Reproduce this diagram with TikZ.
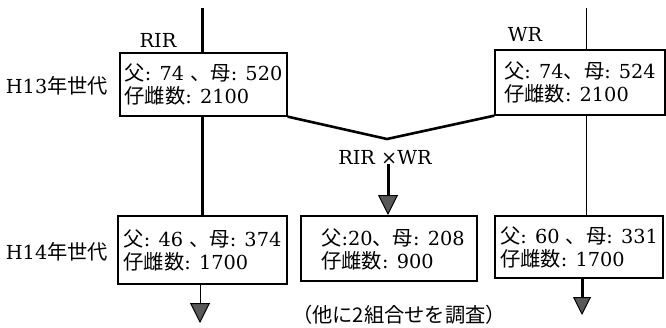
\documentclass[tikz,border=0pt]{standalone}
\usepackage{fontspec}
\setmainfont{DejaVu Serif}
\newfontfamily\cjk[Scale=1.05]{Noto Sans CJK JP}
\newcommand\jtext[1]{{\cjk #1}}
\usetikzlibrary{arrows.meta}
\begin{document}
\begin{tikzpicture}[x=1pt,y=-1pt,
  font=\fontsize{19.3}{23}\selectfont,
  box/.style={draw, line width=1.3pt, align=left, inner sep=0pt},
  thickln/.style={line width=3pt},
  thinln/.style={line width=1pt},
  tip/.style={-{Triangle[length=#1,width=#1,fill=black!65,line width=1pt]}},
  lab/.style={inner sep=0pt}
]
\useasboundingbox (0,0) rectangle (666,327);

% labels
\node[lab] (rirlab) at (158,40) {RIR};
\node[lab] (wrlab) at (525,34) {WR};
\node[lab] (h13) at (57,86) {H13\jtext{年世代}};
\node[lab] (h14) at (57,252) {H14\jtext{年世代}};
\node[lab] (cross) at (385,157) {RIR ×WR};
\node[lab] (note) at (399,315) {\jtext{（他に2組合せを調査）}};

% boxes
\node[box, minimum width=167pt, minimum height=63pt] (rir) at (203.5,84.5)
  {\jtext{父}: 74 \jtext{、母}: 520\\\jtext{仔雌数}: 2100};
\node[box, minimum width=170pt, minimum height=65pt] (wr) at (580,82.5)
  {\jtext{父}: 74\jtext{、母}: 524\\\jtext{仔雌数}: 2100};
\node[box, minimum width=169pt, minimum height=68pt] (ll) at (202.5,250)
  {\jtext{父}: 46 \jtext{、母}: 374\\\jtext{仔雌数}: 1700};
\node[box, minimum width=176pt, minimum height=65pt, text depth=0pt] (mid) at (389,248.5)
  {\hspace*{8pt}\jtext{父}:20\jtext{、母}: 208\\\hspace*{8pt}\jtext{仔雌数}: 900};
\node[box, minimum width=168pt, minimum height=62pt] (lr) at (579,247)
  {\jtext{父}: 60 \jtext{、母}: 331\\\jtext{仔雌数}: 1700};

% coordinates
\coordinate (rirtop) at (202,8);
\coordinate (wrtop) at (586,8);
\coordinate (vj) at (387,139);
\coordinate (lltip) at (200,323);
\coordinate (midtip) at (388,215);
\coordinate (lrtip) at (582,315);

% connectors
\draw[thickln] (rirtop) -- (rirtop |- rir.north);
\draw[thickln] (rirtop |- rir.south) -- (rirtop |- ll.north);
\draw[thinln] (wrtop) -- (wrtop |- wr.north);
\draw[thinln] (wrtop |- wr.south) -- (wrtop |- lr.north);
\draw[line width=2.6pt, line join=miter] (rir.south east) -- (vj) -- (wr.south west);
\draw[thinln, tip=20pt] (lltip |- ll.south) -- (lltip);
\draw[thickln, tip=20pt] (midtip |- cross.south) -- (midtip);
\draw[thickln, tip=18pt] (lrtip |- lr.south) -- (lrtip);
\end{tikzpicture}
\end{document}
